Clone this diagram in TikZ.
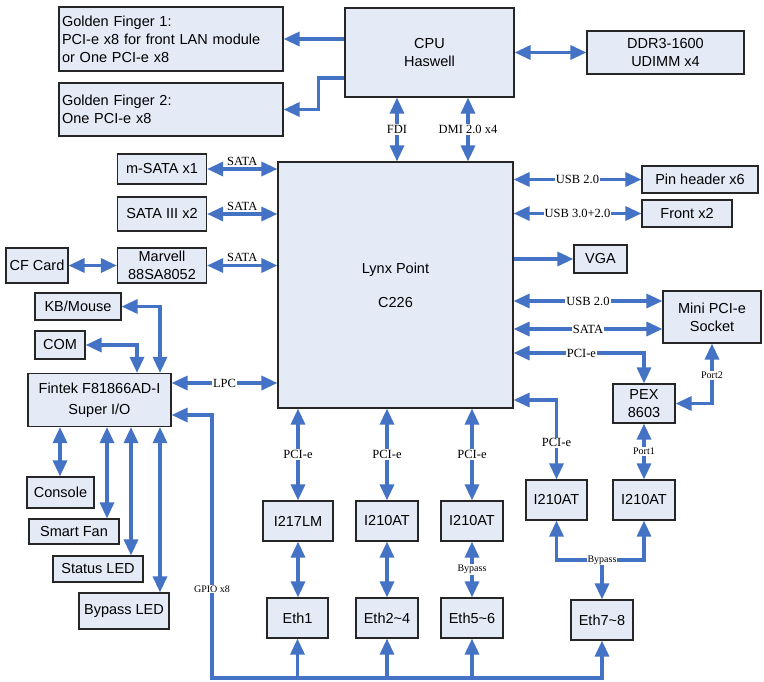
\documentclass[tikz,border=0pt]{standalone}
\usepackage{fontspec}
\setmainfont{Liberation Sans}
\newfontfamily\lblfont{Liberation Serif}
\usepackage{tikz}
\usetikzlibrary{arrows.meta,positioning}
\definecolor{link}{HTML}{4472C4}
\definecolor{boxfill}{HTML}{E4EBF6}
\definecolor{edge}{HTML}{262626}

\begin{document}
\begin{tikzpicture}[x=1pt,y=-1pt,
    >={Triangle[length=16pt,width=14pt]},
    box/.style={draw=edge,fill=boxfill,line width=1.2pt,inner sep=2pt,align=center,font=\fontsize{14.5}{18}\selectfont},
    arrow/.style={->,line width=3.3pt,draw=link},
    biarrow/.style={<->,line width=3.3pt,draw=link},
    lbl/.style={fill=white,inner sep=1pt,font=\lblfont\fontsize{12.5}{12.5}\selectfont},
    small/.style={font=\lblfont\fontsize{10}{10}\selectfont}
  ]
    \useasboundingbox (0,0) rectangle (764,681);

    \node[box,minimum width=224,minimum height=64,text width=218,align=left] (gf1) at (171,39) {Golden Finger 1:\\PCI-e x8 for front LAN module\\or One PCI-e x8};
    \node[box,minimum width=224,minimum height=53,text width=218,align=left] (gf2) at (171,109.5) {Golden Finger 2:\\One PCI-e x8};
    \node[box,minimum width=169,minimum height=89] (cpu) at (429.5,52.5) {CPU\\Haswell};
    \node[box,minimum width=157,minimum height=43] (ddr) at (665.5,52.5) {DDR3-1600\\UDIMM x4};
    \node[box,minimum width=235,minimum height=246] (lynx) at (395.5,285) {Lynx Point\\[16pt]C226};

    \node[box,minimum width=89,minimum height=30] (msata) at (162,169) {m-SATA x1};
    \node[box,minimum width=89,minimum height=34] (sata3) at (162,214) {SATA III x2};
    \node[box,minimum width=89,minimum height=35] (marvell) at (162,265.5) {Marvell\\88SA8052};
    \node[box,minimum width=62,minimum height=35] (cf) at (37,265.5) {CF Card};
    \node[box,minimum width=86,minimum height=27] (kb) at (78,306.5) {KB/Mouse};
    \node[box,minimum width=50,minimum height=28] (com) at (60,345) {COM};
    \node[box,minimum width=143,minimum height=53,font=\fontsize{14.5}{21}\selectfont] (fintek) at (99.5,400) {Fintek F81866AD-I\\Super I/O};
    \node[box,minimum width=67,minimum height=31] (console) at (60.5,492.5) {Console};
    \node[box,minimum width=90,minimum height=25] (smartfan) at (74,531.5) {Smart Fan};
    \node[box,minimum width=90,minimum height=26] (statusled) at (98,569) {Status LED};
    \node[box,minimum width=90,minimum height=36] (bypassled) at (124,611) {Bypass LED};

    \node[box,minimum width=116,minimum height=27] (pinhdr) at (700,179.5) {Pin header x6};
    \node[box,minimum width=90,minimum height=27] (front) at (687,213.5) {Front x2};
    \node[box,minimum width=53,minimum height=28] (vga) at (600.5,259) {VGA};
    \node[box,minimum width=98,minimum height=52] (minipcie) at (712,317) {Mini PCI-e\\Socket};
    \node[box,minimum width=62,minimum height=39] (pex) at (644,403.5) {PEX\\8603};

    \node[box,minimum width=70,minimum height=40] (i217) at (298,521) {I217LM};
    \node[box,minimum width=62,minimum height=40] (i210b) at (387,521) {I210AT};
    \node[box,minimum width=62,minimum height=40] (i210c) at (472,521) {I210AT};
    \node[box,minimum width=61,minimum height=40] (i210d) at (556.5,500) {I210AT};
    \node[box,minimum width=62,minimum height=40] (i210e) at (644,500) {I210AT};
    \node[box,minimum width=61,minimum height=40] (eth1) at (297.5,618) {Eth1};
    \node[box,minimum width=62,minimum height=40] (eth24) at (387,618) {Eth2\textasciitilde4};
    \node[box,minimum width=62,minimum height=40] (eth56) at (472,618) {Eth5\textasciitilde6};
    \node[box,minimum width=62,minimum height=40] (eth78) at (602,620) {Eth7\textasciitilde8};

    \coordinate (bus) at (212,678);

    \draw[arrow] (cpu.west |- gf1.east) -- (gf1.east);
    \draw[arrow] (cpu.west |- 0,78) -- ++(-26,0) |- (gf2.east);
    \draw[biarrow] (cpu.east |- ddr.west) -- (ddr.west);
    \draw[biarrow] (cpu.south -| 397,0) -- node[lbl] (fdiLbl) {FDI} (lynx.north -| 397,0);
    \draw[biarrow] (cpu.south -| 468,0) -- node[lbl] (dmiLbl) {DMI 2.0 x4} (lynx.north -| 468,0);

    \draw[biarrow] (msata.east) -- node[lbl,above=1pt] (sataLblA) {SATA} (lynx.west |- msata.east);
    \draw[biarrow] (sata3.east) -- node[lbl,above=1pt] (sataLblB) {SATA} (lynx.west |- sata3.east);
    \draw[biarrow] (marvell.east) -- node[lbl,above=1pt] (sataLblC) {SATA} (lynx.west |- marvell.east);
    \draw[biarrow] (cf) -- (marvell);
    \draw[biarrow] (kb.east) -| (fintek.north -| 160,0);
    \draw[biarrow] (com.east) -| (fintek.north -| 137,0);
    \draw[biarrow] (fintek.east |- 0,383) -- node[lbl] (lpcLbl) {LPC} (lynx.west |- 0,383);
    \draw[biarrow] (fintek.south -| 60,0) -- (console.north -| 60,0);
    \draw[biarrow] (fintek.south -| 107,0) -- (smartfan.north -| 107,0);
    \draw[biarrow] (fintek.south -| 131,0) -- (statusled.north -| 131,0);
    \draw[biarrow] (fintek.south -| 160,0) -- (bypassled.north -| 160,0);

    \draw[biarrow] (eth78.south) |- (bus) |- (fintek.east |- 0,415);
    \draw[arrow] (eth1.south |- bus) -- (eth1.south);
    \draw[arrow] (eth24.south |- bus) -- (eth24.south);
    \draw[arrow] (eth56.south |- bus) -- (eth56.south);
    \node[lbl,small] (gpioLbl) at (212,589) {GPIO x8};

    \draw[biarrow] (lynx.south -| i217.north) -- node[lbl] (pcieLblA) {PCI-e} (i217.north);
    \draw[biarrow] (lynx.south -| i210b.north) -- node[lbl] (pcieLblB) {PCI-e} (i210b.north);
    \draw[biarrow] (lynx.south -| i210c.north) -- node[lbl] (pcieLblC) {PCI-e} (i210c.north);
    \draw[biarrow] (i217.south) -- (eth1.north -| i217.south);
    \draw[biarrow] (i210b.south) -- (eth24.north);
    \draw[biarrow] (i210c.south) -- node[lbl,small] (bypassLblA) {Bypass} (eth56.north);

    \draw[biarrow] (lynx.east |- pinhdr.west) -- node[lbl] (usbLblA) {USB 2.0} (pinhdr.west);
    \draw[biarrow] (lynx.east |- front.west) -- node[lbl] (usbLblB) {USB 3.0+2.0} (front.west);
    \draw[arrow] (lynx.east |- vga.west) -- (vga.west);
    \draw[biarrow] (lynx.east |- 0,301) -- node[lbl] (usbLblC) {USB 2.0} (minipcie.west |- 0,301);
    \draw[biarrow] (lynx.east |- 0,329) -- node[lbl] (sataLblD) {SATA} (minipcie.west |- 0,329);
    \draw[biarrow] (lynx.east |- 0,353) -| node[lbl,pos=0.26] (pcieLblD) {PCI-e} (pex.north);
    \draw[biarrow] (lynx.east |- 0,400) -| node[lbl,pos=0.77] (pcieLblE) {PCI-e} (i210d.north);
    \draw[biarrow] (pex.east) -| node[lbl,small,pos=0.735] (port2Lbl) {Port2} (minipcie.south);
    \draw[biarrow] (pex.south) -- node[lbl,small] (port1Lbl) {Port1} (i210e.north);

    \draw[biarrow] (i210d.south) |- (i210e.south |- 0,560) -- (i210e.south);
    \draw[arrow] (eth78.north |- 0,560) -- (eth78.north);
    \node[lbl,small] (bypassLblB) at (eth78.north |- 0,560) {Bypass};
  \end{tikzpicture}
\end{document}
